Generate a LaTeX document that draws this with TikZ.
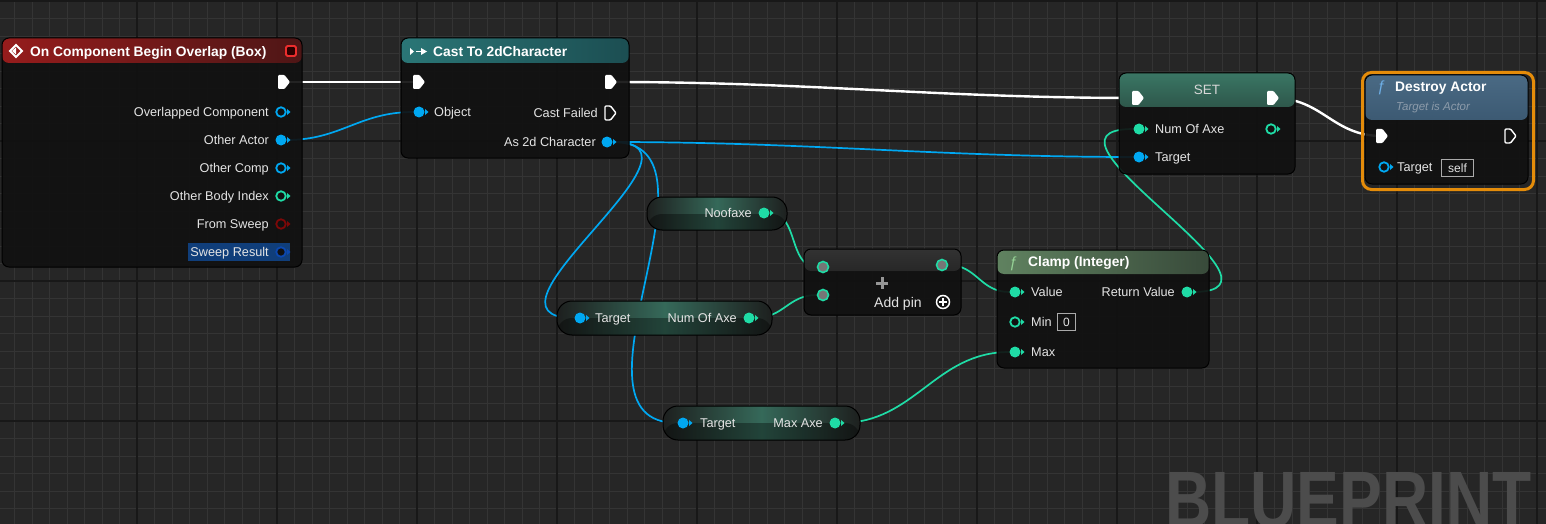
\documentclass[tikz,border=0pt]{standalone}
\usepackage{fontspec}
\setmainfont{Liberation Sans}
\usetikzlibrary{calc}
\pgfdeclarelayer{bg}
\pgfdeclarelayer{wires}
\pgfsetlayers{bg,wires,main}
\definecolor{canvas}{RGB}{38,38,38}
\definecolor{gridminor}{RGB}{52,52,52}
\definecolor{gridmajor}{RGB}{24,24,24}
\definecolor{nodefill}{RGB}{17,17,17}
\definecolor{pinblue}{RGB}{0,168,242}
\definecolor{pingreen}{RGB}{31,220,166}
\definecolor{pinred}{RGB}{125,8,8}
\definecolor{pinstruct}{RGB}{12,72,175}
\definecolor{txt}{RGB}{228,228,228}
\definecolor{evtL}{RGB}{150,28,28}
\definecolor{evtR}{RGB}{78,22,22}
\definecolor{castL}{RGB}{42,118,118}
\definecolor{castR}{RGB}{28,78,82}
\definecolor{setT}{RGB}{58,118,100}
\definecolor{setB}{RGB}{22,26,25}
\definecolor{desT}{RGB}{74,106,132}
\definecolor{desB}{RGB}{40,66,90}
\definecolor{clL}{RGB}{96,130,96}
\definecolor{clR}{RGB}{56,74,58}
\definecolor{pilldark}{RGB}{30,32,31}
\definecolor{pillteal}{RGB}{58,118,100}
\definecolor{selorange}{RGB}{228,140,10}
\definecolor{hilite}{RGB}{16,62,122}
\definecolor{boxgray}{RGB}{170,170,170}
\definecolor{wmgray}{RGB}{76,76,76}
\definecolor{stopred}{RGB}{235,45,45}
\definecolor{stopfill}{RGB}{45,0,0}
\definecolor{settxt}{RGB}{215,215,215}
\definecolor{fblue}{RGB}{110,175,230}
\definecolor{subgray}{RGB}{140,155,170}
\definecolor{fgreen}{RGB}{150,210,150}
\definecolor{addgray}{RGB}{118,118,118}
\definecolor{plusgray}{RGB}{150,150,150}
\definecolor{addtop}{RGB}{50,50,50}
\tikzset{
 body/.style={draw=black, line width=1pt, fill=nodefill, fill opacity=0.92, rounded corners=7pt, anchor=north west, inner sep=0pt, outer sep=0pt},
 header/.style 2 args={path picture={\fill[#1, fill opacity=1] (path picture bounding box.north west) rectangle ([yshift=-#2]path picture bounding box.north east);}},
 pill/.style={body, rounded corners=15pt, fill=pilldark, fill opacity=0.85,
   path picture={\fill[left color=pilldark, right color=pilldark, middle color=pillteal, fill opacity=0.85] (path picture bounding box.north west) rectangle (path picture bounding box.south east);
   \fill[black, fill opacity=0.35] ([yshift=-17pt]path picture bounding box.north west) rectangle (path picture bounding box.south east);}},
 lbl/.style={text=txt, font=\fontsize{12.7}{14}\selectfont, inner sep=0pt, anchor=base west},
 lblr/.style={lbl, anchor=base east},
 ttl/.style={text=white, font=\bfseries\fontsize{13.8}{16}\selectfont, inner sep=0pt, anchor=base west},
 dpinnode/.style={circle, minimum size=11pt, inner sep=0pt},
 hpinnode/.style={circle, minimum size=9.5pt, inner sep=0pt, line width=1.8pt, fill=nodefill},
 wire/.style={line width=1.7pt},
 xwire/.style={white, line width=2.4pt},
 valbox/.style={draw=boxgray, line width=1pt, inner sep=0pt, minimum height=17pt, text=txt, font=\fontsize{12}{14}\selectfont, anchor=north west},
 bptxt/.style={text=wmgray, font=\bfseries\fontsize{80}{80}\selectfont, inner sep=0pt, xscale=0.8},
}
\newcommand\dpin[3]{\node[dpinnode, fill=#3] (#1) at (#2) {};\fill[#3] ($(#1)+(6,-3)$) -- ++(3.5,3) -- ++(-3.5,3) -- cycle;}
\newcommand\hpin[3]{\node[hpinnode, draw=#3] (#1) at (#2) {};\fill[#3] ($(#1)+(6,-3)$) -- ++(3.5,3) -- ++(-3.5,3) -- cycle;}
\newcommand\xpin[2]{\coordinate (#1) at (#2);\fill[white, rounded corners=1pt] ($(#1)+(-6,-7)$) -- ++(6.5,0) -- ++(5.5,7) -- ++(-5.5,7) -- ++(-6.5,0) -- cycle;}
\newcommand\xpinh[2]{\coordinate (#1) at (#2);\draw[white, line width=1.4pt, rounded corners=1pt] ($(#1)+(-5,-7)$) -- ++(5.5,0) -- ++(5.5,7) -- ++(-5.5,7) -- ++(-5.5,0) -- cycle;}
\newcommand\apin[2]{\node[circle, minimum size=11pt, inner sep=0pt, draw=pingreen, line width=1.6pt, fill=addgray] (#1) at (#2) {};}
\begin{document}
\begin{tikzpicture}[x=1pt,y=-1pt]
\useasboundingbox (0,0) rectangle (1546,524);
\begin{pgfonlayer}{bg}
\fill[canvas] (0,0) rectangle (1546,524);
\foreach \x in {14.5,32,...,1546} \draw[gridminor,line width=0.8pt] (\x,0) -- (\x,524);
\foreach \y in {1,18.5,...,524} \draw[gridminor,line width=0.8pt] (0,\y) -- (1546,\y);
\foreach \x in {137,277,...,1546} \draw[gridmajor,line width=1.2pt] (\x,0) -- (\x,524);
\foreach \y in {1,141,...,524} \draw[gridmajor,line width=1.2pt] (0,\y) -- (1546,\y);
\node[bptxt, anchor=base west] (wm) at (1165,527) {BLUEPRINT};
\end{pgfonlayer}

% ---------- Event node
\node[body, minimum width=300pt, minimum height=229pt, header={left color=evtL, right color=evtR}{25pt}] (evt) at (2,38) {};
\draw[white, line width=2pt] (10,51) -- (16,45) -- (22,51) -- (16,57) -- cycle;
\fill[white] (12,51) -- (16,47.5) -- (16,54.5) -- cycle;
\node[ttl] (evt-t) at (30,56.5) {On Component Begin Overlap (Box)};
\node[draw=stopred, fill=stopfill, line width=1.8pt, minimum size=10pt, rounded corners=1.5pt, inner sep=0pt] (evt-stop) at (291,51) {};
\xpin{evt-xo}{284,82}
\hpin{evt-ovl}{281,112}{pinblue}
\node[lblr] (evt-l1) at (269,116.5) {Overlapped Component};
\dpin{evt-actor}{281,140}{pinblue}
\node[lblr] (evt-l2) at (269,144.5) {Other Actor};
\hpin{evt-comp}{281,168}{pinblue}
\node[lblr] (evt-l3) at (269,172.5) {Other Comp};
\hpin{evt-body}{281,196}{pingreen}
\node[lblr] (evt-l4) at (269,200.5) {Other Body Index};
\hpin{evt-sweep}{281,224}{pinred}
\node[lblr] (evt-l5) at (269,228.5) {From Sweep};
\node[fill=hilite, minimum width=102pt, minimum height=18pt, inner sep=0pt, anchor=north west] (evt-hl) at (188,243) {};
\hpin{evt-res}{281,252}{pinstruct}
\node[lblr] (evt-l6) at (269,256.5) {Sweep Result};

% ---------- Cast node
\node[body, minimum width=228pt, minimum height=120pt, header={left color=castL, right color=castR}{25pt}] (cast) at (401,38) {};
\fill[white] (410,48) -- (414,51.5) -- (410,55) -- cycle;
\draw[white, line width=1.5pt] (416,51.5) -- (422,51.5);
\fill[white] (421,48) -- (427,51.5) -- (421,55) -- cycle;
\node[ttl] (cast-t) at (433,56.5) {Cast To 2dCharacter};
\xpin{cast-xi}{419,82}
\xpin{cast-xo}{611,82}
\dpin{cast-obj}{419,112}{pinblue}
\node[lbl] (cast-l1) at (434,116.5) {Object};
\node[lblr] (cast-l2) at (598,117.5) {Cast Failed};
\xpinh{cast-fail}{610,113}
\node[lblr] (cast-l3) at (596,146.5) {As 2d Character};
\dpin{cast-as}{607,142}{pinblue}

% ---------- SET node
\node[body, minimum width=176pt, minimum height=101pt, header={top color=setT, bottom color=setB}{34pt}] (set) at (1119,73) {};
\node[text=settxt, font=\fontsize{13.5}{16}\selectfont, inner sep=0pt, anchor=base] (set-t) at (1207,94.5) {SET};
\xpin{set-xi}{1138,98}
\xpin{set-xo}{1273,98}
\dpin{set-num}{1139,129}{pingreen}
\node[lbl] (set-l1) at (1155,133.5) {Num Of Axe};
\hpin{set-out}{1271,129}{pingreen}
\dpin{set-tgt}{1139,157}{pinblue}
\node[lbl] (set-l2) at (1155,161.5) {Target};

% ---------- Destroy Actor node
\node[draw=selorange, line width=3pt, rounded corners=9pt, minimum width=171pt, minimum height=117pt, anchor=north west, inner sep=0pt] (des-sel) at (1361,71) {};
\node[body, minimum width=163pt, minimum height=109pt, header={top color=desT, bottom color=desB}{45pt}] (des) at (1365,75) {};
\node[text=fblue, font=\itshape\fontsize{15}{16}\selectfont, inner sep=0pt, anchor=base] (des-f) at (1381,92) {ƒ};
\node[ttl] (des-t) at (1395,92) {Destroy Actor};
\node[text=subgray, font=\itshape\fontsize{11.5}{13}\selectfont, inner sep=0pt, anchor=base west] (des-sub) at (1396,110.5) {Target is Actor};
\xpin{des-xi}{1382,136}
\xpinh{des-xo}{1510,136}
\hpin{des-tgt}{1384,167}{pinblue}
\node[lbl] (des-l1) at (1397,171.5) {Target};
\node[valbox, minimum width=32pt] (des-self) at (1441,159) {self};

% ---------- Getter: Noofaxe
\node[pill, minimum width=140pt, minimum height=33pt] (nf) at (647,197) {};
\node[lblr] (nf-l) at (752,217.5) {Noofaxe};
\dpin{nf-out}{764,213}{pingreen}

% ---------- Getter: Target / Num Of Axe
\node[pill, minimum width=215pt, minimum height=34pt] (gn) at (557,301) {};
\dpin{gn-tgt}{580,318}{pinblue}
\node[lbl] (gn-l1) at (595,322.5) {Target};
\node[lblr] (gn-l2) at (737,322.5) {Num Of Axe};
\dpin{gn-out}{749,318}{pingreen}

% ---------- Getter: Target / Max Axe
\node[pill, minimum width=197pt, minimum height=34pt] (gm) at (663,406) {};
\dpin{gm-tgt}{683,423}{pinblue}
\node[lbl] (gm-l1) at (700,427.5) {Target};
\node[lblr] (gm-l2) at (823,427.5) {Max Axe};
\dpin{gm-out}{835,423}{pingreen}

% ---------- Add node
\node[body, minimum width=157pt, minimum height=66pt, header={top color=addtop, bottom color=nodefill}{22pt}] (add) at (804,249) {};
\apin{add-in1}{823,267}
\apin{add-in2}{823,295}
\apin{add-out}{942,265}
\draw[plusgray, line width=3pt] (876,283) -- (888,283) (882,277) -- (882,289);
\node[lbl, font=\fontsize{14}{16}\selectfont] (add-l) at (874,307) {Add pin};
\node[circle, draw=white, line width=1.5pt, minimum size=13pt, inner sep=0pt] (add-pl) at (943,302) {};
\draw[white, line width=1.5pt] (939,302) -- (947,302) (943,298) -- (943,306);

% ---------- Clamp node
\node[body, minimum width=212pt, minimum height=118pt, header={left color=clL, right color=clR}{24pt}] (clamp) at (997,250) {};
\node[text=fgreen, font=\itshape\fontsize{15}{16}\selectfont, inner sep=0pt, anchor=base] (cl-f) at (1013,267) {ƒ};
\node[ttl] (cl-t) at (1028,266.5) {Clamp (Integer)};
\dpin{cl-val}{1015,292}{pingreen}
\node[lbl] (cl-l1) at (1031,296.5) {Value};
\node[lblr] (cl-l2) at (1175,296.5) {Return Value};
\dpin{cl-ret}{1187,292}{pingreen}
\hpin{cl-min}{1015,322}{pingreen}
\node[lbl] (cl-l3) at (1031,326.5) {Min};
\node[valbox, minimum width=18pt] (cl-min0) at (1057,313) {0};
\dpin{cl-max}{1015,352}{pingreen}
\node[lbl] (cl-l4) at (1031,356.5) {Max};

% ---------- Wires
\begin{pgfonlayer}{wires}
\draw[xwire] (evt-xo) -- (cast-xi);
\draw[xwire] (cast-xo) .. controls +(200,0) and +(-200,0) .. (set-xi);
\draw[xwire] (set-xo) .. controls +(50,0) and +(-50,0) .. (des-xi);
\draw[wire,pinblue] (evt-actor) .. controls +(60,0) and +(-60,0) .. (cast-obj);
\draw[wire,pinblue] (cast-as) .. controls +(200,0) and +(-200,0) .. (set-tgt);
\draw[wire,pinblue] (cast-as) .. controls +(120,0) and +(-120,0) .. (gn-tgt);
\draw[wire,pinblue] (cast-as) .. controls +(130,0) and +(-130,0) .. (gm-tgt);
\draw[wire,pingreen] (nf-out) .. controls +(35,0) and +(-35,0) .. (add-in1);
\draw[wire,pingreen] (gn-out) .. controls +(35,0) and +(-35,0) .. (add-in2);
\draw[wire,pingreen] (add-out) .. controls +(35,0) and +(-35,0) .. (cl-val);
\draw[wire,pingreen] (gm-out) .. controls +(80,0) and +(-80,0) .. (cl-max);
\draw[wire,pingreen] (cl-ret) .. controls +(125,0) and +(-125,0) .. (set-num);
\end{pgfonlayer}
\end{tikzpicture}
\end{document}
